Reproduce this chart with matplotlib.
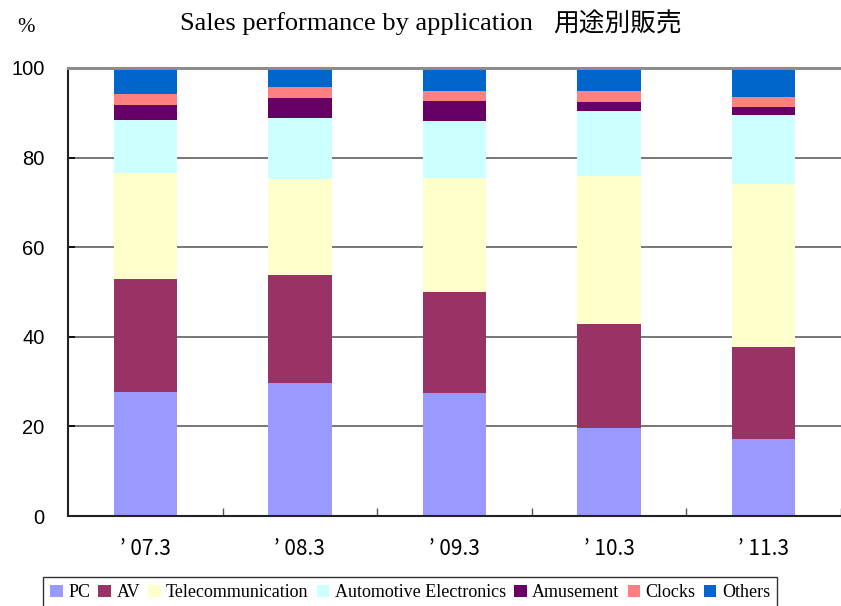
import numpy as np
import matplotlib
matplotlib.use("Agg")
import matplotlib.pyplot as plt

# ---------------------------
# Data
# ---------------------------
periods = ["’ 07.3", "’ 08.3", "’ 09.3", "’ 10.3", "’ 11.3"]
series_names = ["PC", "AV", "Telecommunication", "Automotive Electronics",
                "Amusement", "Clocks", "Others"]
pc = [27.7, 29.7, 27.5, 19.6, 17.2]
av = [25.2, 24.1, 22.5, 23.3, 20.5]
telecom = [23.7, 21.5, 25.5, 33.1, 36.5]
automotive = [11.9, 13.6, 12.7, 14.5, 15.4]
amusement = [3.3, 4.5, 4.5, 2.0, 1.8]
clocks = [2.5, 2.4, 2.2, 2.4, 2.2]
others = [5.7, 4.2, 5.1, 5.1, 6.4]

colors = ["#9999FF", "#993366", "#FFFFCC", "#CCFFFF", "#660066", "#FF8080", "#0066CC"]

W, H = 841, 606
fig = plt.figure(figsize=(W / 100, H / 100), dpi=100)
ax = fig.add_axes([68 / W, 1 - 516 / H, (W - 68) / W, (516 - 68) / H])

x = np.arange(len(periods))
bottom = np.zeros(len(periods))
handles = []
for name, vals, col in zip(series_names,
                           [pc, av, telecom, automotive, amusement, clocks, others],
                           colors):
    b = ax.bar(x, vals, width=0.41, bottom=bottom, color=col, label=name, zorder=2)
    handles.append(b)
    bottom += np.array(vals)

ax.set_xlim(-0.5, len(periods) - 0.5)
ax.set_ylim(0, 100)

# gridlines
for yv in [20, 40, 60, 80]:
    ax.axhline(yv, color="#606060", lw=1.2, zorder=1)
ax.axhline(100, color="#8c8c8c", lw=2.2, zorder=3, clip_on=False)

for s in ["top", "right"]:
    ax.spines[s].set_visible(False)
ax.spines["left"].set_linewidth(1.5)
ax.spines["bottom"].set_linewidth(1.5)
ax.spines["left"].set_color("#222222")
ax.spines["bottom"].set_color("#222222")

ax.set_yticks([0, 20, 40, 60, 80, 100])
ax.set_yticklabels(["0", "20", "40", "60", "80", "100"],
                   family="Liberation Sans", fontsize=14.5)
ax.tick_params(axis="y", direction="in", length=5, pad=17, width=1.2)

# category labels, ticks between categories
ax.set_xticks(x + 0.5)
ax.set_xticklabels([])
ax.tick_params(axis="x", direction="in", length=6, width=1, color="#555555")
for xi, lab in zip(x, periods):
    ax.text(xi, -7.3, lab, ha="center", va="center", fontsize=15,
            family=["Noto Sans CJK JP", "DejaVu Sans"], transform=ax.transData)

fig.text(26 / W, 1 - 27 / H, "%", ha="center", va="center",
         family="Liberation Serif", fontsize=15)
fig.text(180 / W, 1 - 24 / H, "Sales performance by application", ha="left",
         va="center", family="Liberation Serif", fontsize=19)
fig.text(553 / W, 1 - 24 / H, "用途別販売", ha="left", va="center",
         family=["Noto Sans CJK JP", "DejaVu Sans"], fontsize=18.5)

leg = fig.legend(handles=handles, labels=series_names, loc="lower center",
                 bbox_to_anchor=(410 / W, -0.004), ncol=7, frameon=True,
                 fancybox=False, edgecolor="#333333", framealpha=1,
                 prop={"family": "Liberation Serif", "size": 13.0},
                 handlelength=0.7, handleheight=0.7, handletextpad=0.3,
                 columnspacing=0.45, borderpad=0.4, borderaxespad=0)
leg.get_frame().set_linewidth(1.0)

fig.savefig("out.png", dpi=100)
